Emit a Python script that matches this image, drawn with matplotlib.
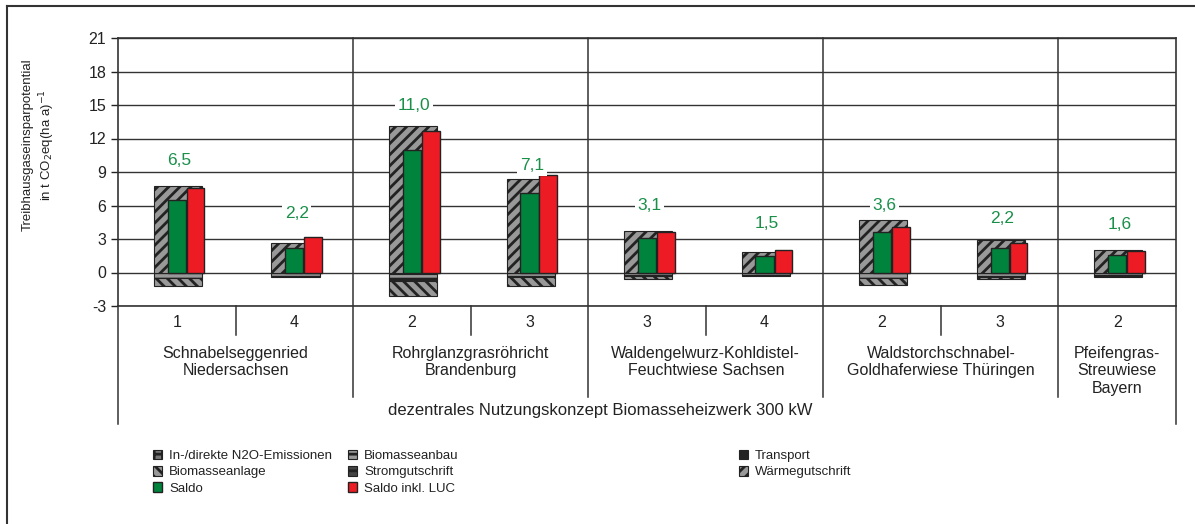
import matplotlib.pyplot as plt
import numpy as np
from matplotlib.lines import Line2D

plt.rcParams['font.family'] = ['Liberation Sans', 'DejaVu Sans']
plt.rcParams['hatch.linewidth'] = 2.0
plt.rcParams['axes.unicode_minus'] = False

# data (t CO2eq per ha and year)
variants = ['1', '4', '2', '3', '3', '4', '2', '3', '2']
groups = ['Schnabelseggenried\nNiedersachsen',
          'Rohrglanzgrasröhricht\nBrandenburg',
          'Waldengelwurz-Kohldistel-\nFeuchtwiese Sachsen',
          'Waldstorchschnabel-\nGoldhaferwiese Thüringen',
          'Pfeifengras-\nStreuwiese\nBayern']
group_sizes = [2, 2, 2, 2, 1]
concept = 'dezentrales Nutzungskonzept Biomasseheizwerk 300 kW'

n2o = [-0.05, -0.05, -0.10, -0.05, -0.05, -0.05, -0.05, -0.05, -0.05]
anbau = [-0.40, -0.25, -0.40, -0.30, -0.20, -0.15, -0.40, -0.30, -0.20]
transport = [-0.05, -0.03, -0.30, -0.05, -0.05, -0.05, -0.05, -0.05, -0.05]
anlage = [-0.69, -0.03, -1.26, -0.85, -0.30, -0.02, -0.60, -0.20, -0.06]
strom = [0, 0, 0, 0, 0, 0, 0, 0, 0]
waerme = [7.77, 2.63, 13.15, 8.37, 3.74, 1.83, 4.69, 2.90, 2.03]
saldo = [6.5, 2.2, 11.0, 7.1, 3.1, 1.5, 3.6, 2.2, 1.6]
saldo_luc = [7.56, 3.14, 12.64, 8.69, 3.62, 2.03, 4.07, 2.63, 1.94]
label_y = [10.0, 5.3, 15.0, 9.6, 6.0, 4.4, 6.0, 4.8, 4.3]

W, H = 1195, 524
fig = plt.figure(figsize=(W / 100, H / 100), dpi=100)
ax = fig.add_axes([118 / W, 1 - 306 / H, (1176 - 118) / W, (306 - 38) / H])

x = np.arange(len(variants))
dark = '#222222'
gray = '#999999'

bw = 0.41
bottom = np.zeros(len(x))
neg_styles = [
    (n2o, 'In-/direkte N2O-Emissionen', '#777777', '++'),
    (anbau, 'Biomasseanbau', gray, '--'),
    (transport, 'Transport', dark, None),
    (anlage, 'Biomasseanlage', gray, '\\\\\\'),
]
handles = {}
for vals, name, fc, hatch in neg_styles:
    vals = np.array(vals)
    h = ax.bar(x + 0.01, vals, bw, bottom=bottom, color=fc, hatch=hatch,
               edgecolor=dark, linewidth=0.8, zorder=3, label=name)
    bottom += vals
    handles[name] = h
handles['Stromgutschrift'] = ax.bar(x + 0.01, strom, bw, color='#444444', hatch='--',
                                    edgecolor=dark, linewidth=0.8, zorder=3,
                                    label='Stromgutschrift')
handles['Wärmegutschrift'] = ax.bar(x + 0.01, waerme, bw, color=gray, hatch='///',
                                    edgecolor=dark, linewidth=0.8, zorder=3,
                                    label='Wärmegutschrift')
handles['Saldo'] = ax.bar(x, saldo, 0.155, color='#00843D', edgecolor=dark,
                          linewidth=1.0, zorder=4, label='Saldo')
handles['Saldo inkl. LUC'] = ax.bar(x + 0.16, saldo_luc, 0.15, color='#ED1C24',
                                    edgecolor=dark, linewidth=1.0, zorder=4,
                                    label='Saldo inkl. LUC')

for i, v in enumerate(saldo):
    ax.text(i + 0.02, label_y[i], f'{v:.1f}'.replace('.', ','), ha='center',
            va='center', fontsize=12.5, color='#1A8F4A', zorder=5,
            bbox=dict(facecolor='white', edgecolor='none', pad=2))

ax.set_xlim(-0.5, len(x) - 0.5)
ax.set_ylim(-3, 21)
ax.set_yticks(np.arange(-3, 22, 3))
ax.tick_params(axis='y', labelsize=11.5, colors=dark, length=5, width=1)
ax.tick_params(axis='x', bottom=False, labelbottom=False)
ax.yaxis.grid(True, color='#333333', linewidth=1)
ax.set_axisbelow(True)
for s in ax.spines.values():
    s.set_color('#333333')
    s.set_linewidth(1.2)

# category table below the axis
ypx = lambda p: (272.7 - p) / 11.16
lk = dict(color='#333333', linewidth=1.1, clip_on=False)
for xe in [-0.5, len(x) - 0.5]:
    ax.plot([xe, xe], [-3, ypx(424)], **lk)
edges = np.cumsum(group_sizes)[:-1] - 0.5
for xe in edges:
    ax.plot([xe, xe], [21, ypx(397)], **lk)
start = 0
for size in group_sizes:
    for k in range(1, size):
        ax.plot([start + k - 0.5] * 2, [-3, ypx(335)], **lk)
    start += size

for i, v in enumerate(variants):
    ax.text(i, ypx(323), v, ha='center', va='center', fontsize=11.5, color=dark)
start = 0
for g, size in zip(groups, group_sizes):
    ax.text(start + (size - 1) / 2, ypx(346), g, ha='center', va='top',
            fontsize=11.5, color=dark, linespacing=1.2)
    start += size
fig.text(600 / W, 1 - 411 / H, concept, ha='center', va='center',
         fontsize=12, color=dark)

fig.text(28 / W, 1 - 145 / H, 'Treibhausgaseinsparpotential', rotation=90,
         ha='center', va='center', fontsize=9.5, color=dark)
fig.text(47 / W, 1 - 145 / H, r'in t CO$_2$eq(ha a)$^{-1}$', rotation=90,
         ha='center', va='center', fontsize=9.5, color=dark)

# outer frame
fig.add_artist(Line2D([7 / W, 1], [1 - 6 / H, 1 - 6 / H], color='#333333', linewidth=1.5))
fig.add_artist(Line2D([7 / W, 7 / W], [0, 1 - 6 / H], color='#333333', linewidth=1.5))

cols = [(['In-/direkte N2O-Emissionen', 'Biomasseanlage', 'Saldo'], 146),
        (['Biomasseanbau', 'Stromgutschrift', 'Saldo inkl. LUC'], 341),
        (['Transport', 'Wärmegutschrift'], 732)]
for names, xl in cols:
    fig.legend([handles[n] for n in names], names, loc='upper left',
               bbox_to_anchor=(xl / W, 1 - 443 / H), frameon=False,
               fontsize=9.5, handlelength=0.75, handleheight=0.75,
               handletextpad=0.5, labelspacing=0.3, borderpad=0,
               labelcolor=dark)

fig.savefig('out.png', dpi=100)
